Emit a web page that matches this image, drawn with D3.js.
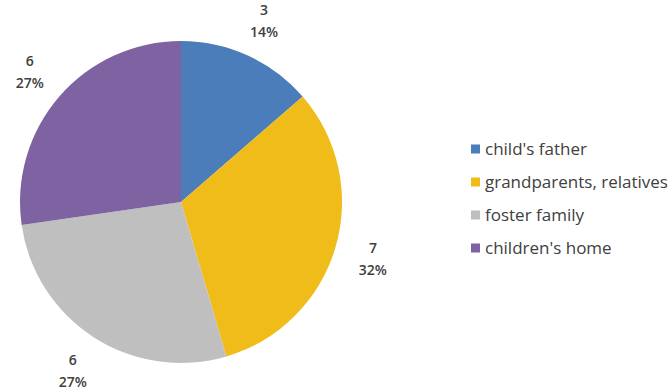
<!DOCTYPE html>
<html>
<head>
<meta charset="utf-8">
<script src="https://cdn.jsdelivr.net/npm/d3@7"></script>
<style>
  html, body { margin: 0; padding: 0; background: #ffffff; }
  svg { display: block; }
  text { font-family: "Open Sans", "Lato", sans-serif; fill: #404040; }
</style>
</head>
<body>
<svg id="chart" width="670" height="390"></svg>
<script>
// Placement of children
const categories = ["child's father", "grandparents, relatives", "foster family", "children's home"];
const counts = [3, 7, 6, 6];
const colors = ["#4a7dba", "#f0bc19", "#bfbfbf", "#7f62a1"];

const svg = d3.select("#chart");
const cx = 181, cy = 202, radius = 161, labelRadius = 200;

const total = d3.sum(counts);
const data = categories.map((c, i) => ({ name: c, value: counts[i], color: colors[i] }));

const pie = d3.pie().value(d => d.value).sort(null);
const arcs = pie(data);
const arc = d3.arc().innerRadius(0).outerRadius(radius);
const labelArc = d3.arc().innerRadius(labelRadius).outerRadius(labelRadius);

const g = svg.append("g").attr("transform", `translate(${cx},${cy})`);

g.selectAll("path.slice")
  .data(arcs)
  .join("path")
  .attr("class", "slice")
  .attr("d", arc)
  .attr("fill", d => d.data.color)
  .attr("stroke", "none");

// Value and percentage labels outside each slice
const labels = g.selectAll("g.label")
  .data(arcs)
  .join("g")
  .attr("class", "label")
  .attr("transform", d => `translate(${labelArc.centroid(d)})`);

labels.append("text")
  .attr("text-anchor", "middle")
  .attr("y", -5)
  .style("font-size", "14px")
  .style("font-weight", 600)
  .text(d => d.data.value);

labels.append("text")
  .attr("text-anchor", "middle")
  .attr("y", 17)
  .style("font-size", "14px")
  .style("font-weight", 600)
  .text(d => Math.round(d.data.value / total * 100) + "%");

// Legend
const legendY = d3.scalePoint().domain(categories).range([149, 248]);
const legend = svg.append("g");
const items = legend.selectAll("g")
  .data(data)
  .join("g")
  .attr("transform", d => `translate(471,${legendY(d.name)})`);

items.append("rect")
  .attr("x", 0).attr("y", -4.5)
  .attr("width", 9).attr("height", 9)
  .attr("fill", d => d.color);

items.append("text")
  .attr("x", 14)
  .attr("y", 6)
  .style("font-size", "17px")
  .text(d => d.name);
</script>
</body>
</html>
